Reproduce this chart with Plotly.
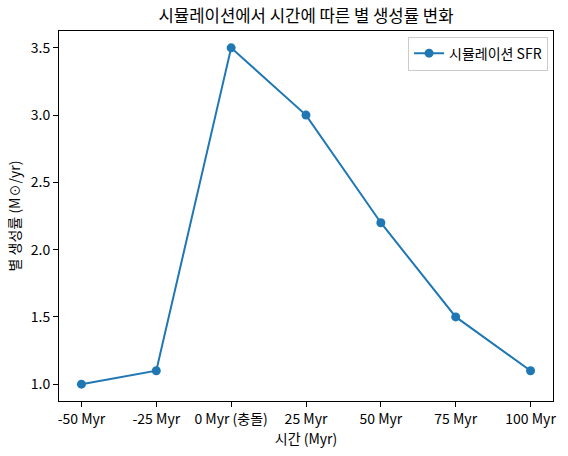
import plotly.graph_objects as go

time_labels = ["-50 Myr", "-25 Myr", "0 Myr (충돌)", "25 Myr", "50 Myr", "75 Myr", "100 Myr"]
sfr_values = [1.0, 1.1, 3.5, 3.0, 2.2, 1.5, 1.1]
y_ticks = [1.0, 1.5, 2.0, 2.5, 3.0, 3.5]

FONT = "Noto Sans CJK KR"
BLUE = "#1f77b4"

x_idx = list(range(len(time_labels)))

fig = go.Figure()
fig.add_trace(go.Scatter(
    x=x_idx, y=sfr_values, mode="lines+markers", name="시뮬레이션 SFR",
    line=dict(color=BLUE, width=2),
    marker=dict(color=BLUE, size=9),
))

n = len(time_labels)
ymin, ymax = min(sfr_values), max(sfr_values)
pad = (ymax - ymin) * 0.05

fig.update_layout(
    width=568, height=456,
    margin=dict(l=59, r=13, t=31, b=55),
    paper_bgcolor="white", plot_bgcolor="white",
    font=dict(family=FONT, size=14, color="black"),
    title=dict(text="시뮬레이션에서 시간에 따른 별 생성률 변화", x=0.5, xanchor="center",
               xref="paper",
               y=1 - 16/456, yanchor="middle", font=dict(size=16.7)),
    showlegend=True,
    legend=dict(x=0.99, y=0.985, xanchor="right", yanchor="top",
                bordercolor="#cccccc", borderwidth=1, bgcolor="rgba(255,255,255,0.8)",
                font=dict(size=14)),
    xaxis=dict(
        range=[-0.3, n - 1 + 0.3],
        tickmode="array", tickvals=x_idx, ticktext=time_labels,
        showgrid=False, zeroline=False,
        showline=True, linecolor="black", linewidth=1, mirror=True,
        ticks="outside", ticklen=5, tickcolor="black",
        title=dict(text="시간 (Myr)", standoff=3, font=dict(size=14)),
    ),
    yaxis=dict(
        range=[ymin - pad, ymax + pad],
        tickmode="array", tickvals=y_ticks, ticktext=[f"{v:.1f}" for v in y_ticks],
        showgrid=False, zeroline=False,
        showline=True, linecolor="black", linewidth=1, mirror=True,
        ticks="outside", ticklen=5, tickcolor="black",
        title=dict(text="별 생성률 (M☉/yr)", standoff=6, font=dict(size=14)),
    ),
)

fig.write_html("out.html", config={"displayModeBar": False},
               post_script="document.body.style.margin='0';document.body.style.overflow='hidden';")
